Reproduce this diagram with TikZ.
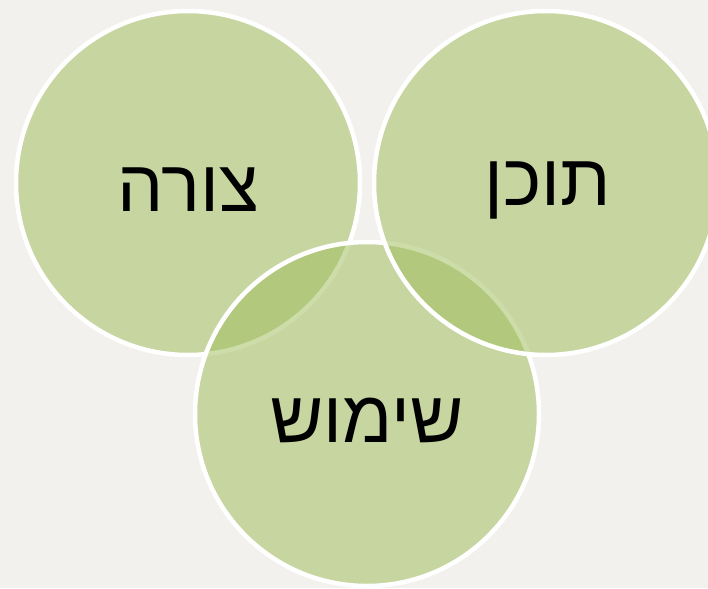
\documentclass[tikz,border=0pt]{standalone}
\usepackage{fontspec}
\newfontfamily\hebfont[Script=Hebrew]{Liberation Sans}
\TeXXeTstate=1
\definecolor{bgc}{RGB}{243,241,237}
\definecolor{leaf}{RGB}{160,190,92}
\tikzset{
  venn/.style={circle, minimum size=344pt, inner sep=0pt, draw=white, line width=4.5pt, fill=leaf, fill opacity=0.52, draw opacity=1},
  lbl/.style={font=\hebfont\fontsize{73}{80}\selectfont, text=black, inner sep=0pt}
}
\begin{document}
\begin{tikzpicture}[x=1pt,y=-1pt]
\fill[bgc] (0,0) rectangle (708,588);
\useasboundingbox (0,0) rectangle (708,588);
\node[venn] (forma) at (188,183) {};
\node[venn] (shimush) at (367,414) {};
\node[venn] (tochen) at (546,183) {};
\node[lbl] (t1) at (188,190) {\beginR צורה\endR};
\node[lbl] (t2) at (548,190) {\beginR תוכן\endR};
\node[lbl] (t3) at (367,420) {\beginR שימוש\endR};
\end{tikzpicture}
\end{document}
